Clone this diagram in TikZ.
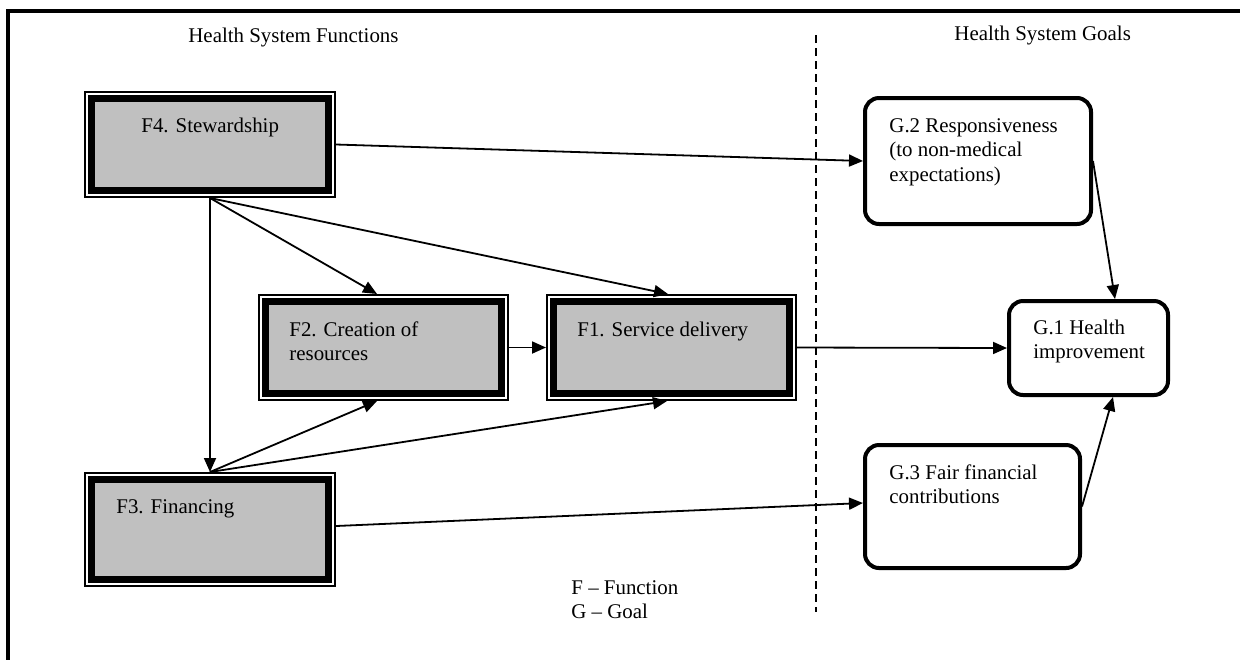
\documentclass[tikz,border=0pt]{standalone}
\usepackage{fontspec}
\setmainfont{Liberation Serif}
\usetikzlibrary{arrows.meta}
\definecolor{boxgray}{RGB}{192,192,192}
\begin{document}
\begin{tikzpicture}[x=0.5pt,y=-0.5pt,
  font=\fontsize{10.45pt}{12.25pt}\selectfont,
  funcbox/.style={rectangle, inner sep=0pt, outer sep=3.75pt, fill=boxgray,
    draw=black, line width=3.5pt,
    preaction={draw=black, line width=7.5pt},
    preaction={draw=white, line width=5.5pt}},
  goalbox/.style={rectangle, rounded corners=7pt, inner sep=0pt, draw=black,
    line width=2pt, fill=white},
  txt/.style={anchor=base west, inner sep=0pt, align=left},
  conn/.style={-{Triangle[length=7pt,width=6pt]}, line width=0.9pt},
  sep/.style={line width=0.8pt, dash pattern=on 4pt off 2.5pt}]
\useasboundingbox (0,0) rectangle (1240,660);
\fill[white] (0,0) rectangle (1240,660);
% frame
\draw[line width=1.75pt] (1240,11) -- (8,11) -- (8,660);
% separator
\draw[sep] (816,35) -- (816,612);
% headings
\node[txt] (hf) at (188,42) {Health System Functions};
\node[txt] (hg) at (954,40) {Health System Goals};
% function boxes
\node[funcbox, minimum width=118.5pt, minimum height=46pt] (f4) at (210,144.5) {};
\node[funcbox, minimum width=118pt, minimum height=46pt] (f2) at (383.5,347.5) {};
\node[funcbox, minimum width=118pt, minimum height=46pt] (f1) at (671.5,347.5) {};
\node[funcbox, minimum width=118.5pt, minimum height=50pt] (f3) at (210,529.5) {};
% (multi-line text nodes are placed by the baseline of their last line)
\node[txt] (f4t) at (141,132) {F4. Stewardship};
\node[txt] (f2t) at (289,360.5) {F2. Creation of\\resources};
\node[txt] (f1t) at (577,336) {F1. Service delivery};
\node[txt] (f3t) at (116,513) {F3. Financing};
% goal boxes
\node[goalbox, minimum width=113pt, minimum height=63pt] (g2) at (978,161) {};
\node[goalbox, minimum width=79.5pt, minimum height=47pt] (g1) at (1088.5,348) {};
\node[goalbox, minimum width=107.5pt, minimum height=61.5pt] (g3) at (972.5,506.5) {};
\node[txt] (g2t) at (889,181) {G.2 Responsiveness\\(to non-medical\\expectations)};
\node[txt] (g1t) at (1033,358.5) {G.1 Health\\improvement};
\node[txt] (g3t) at (889,503.5) {G.3 Fair financial\\contributions};
% legend
\node[txt] (leg) at (571,618.5) {F -- Function\\G -- Goal};
% connectors
\draw[conn] (f4.east) -- (g2.west);
\draw[conn] (f4.south) -- (f3.north);
\draw[conn] (f4.south) -- ([xshift=-3.25pt]f2.north);
\draw[conn] (f4.south) -- ([xshift=-1.75pt]f1.north);
\draw[conn] (f3.north) -- ([xshift=-3.25pt]f2.south);
\draw[conn] (f3.north) -- ([xshift=-2.25pt]f1.south);
\draw[conn] (f2.east) -- (f1.west);
\draw[conn] (f1.east) -- (g1.west);
\draw[conn] ([yshift=1.75pt]f3.east) -- ([yshift=1.75pt]g3.west);
\draw[conn] (g2.east) -- ([xshift=13.25pt]g1.north);
\draw[conn] (g3.east) -- ([xshift=12.25pt]g1.south);
\end{tikzpicture}
\end{document}
